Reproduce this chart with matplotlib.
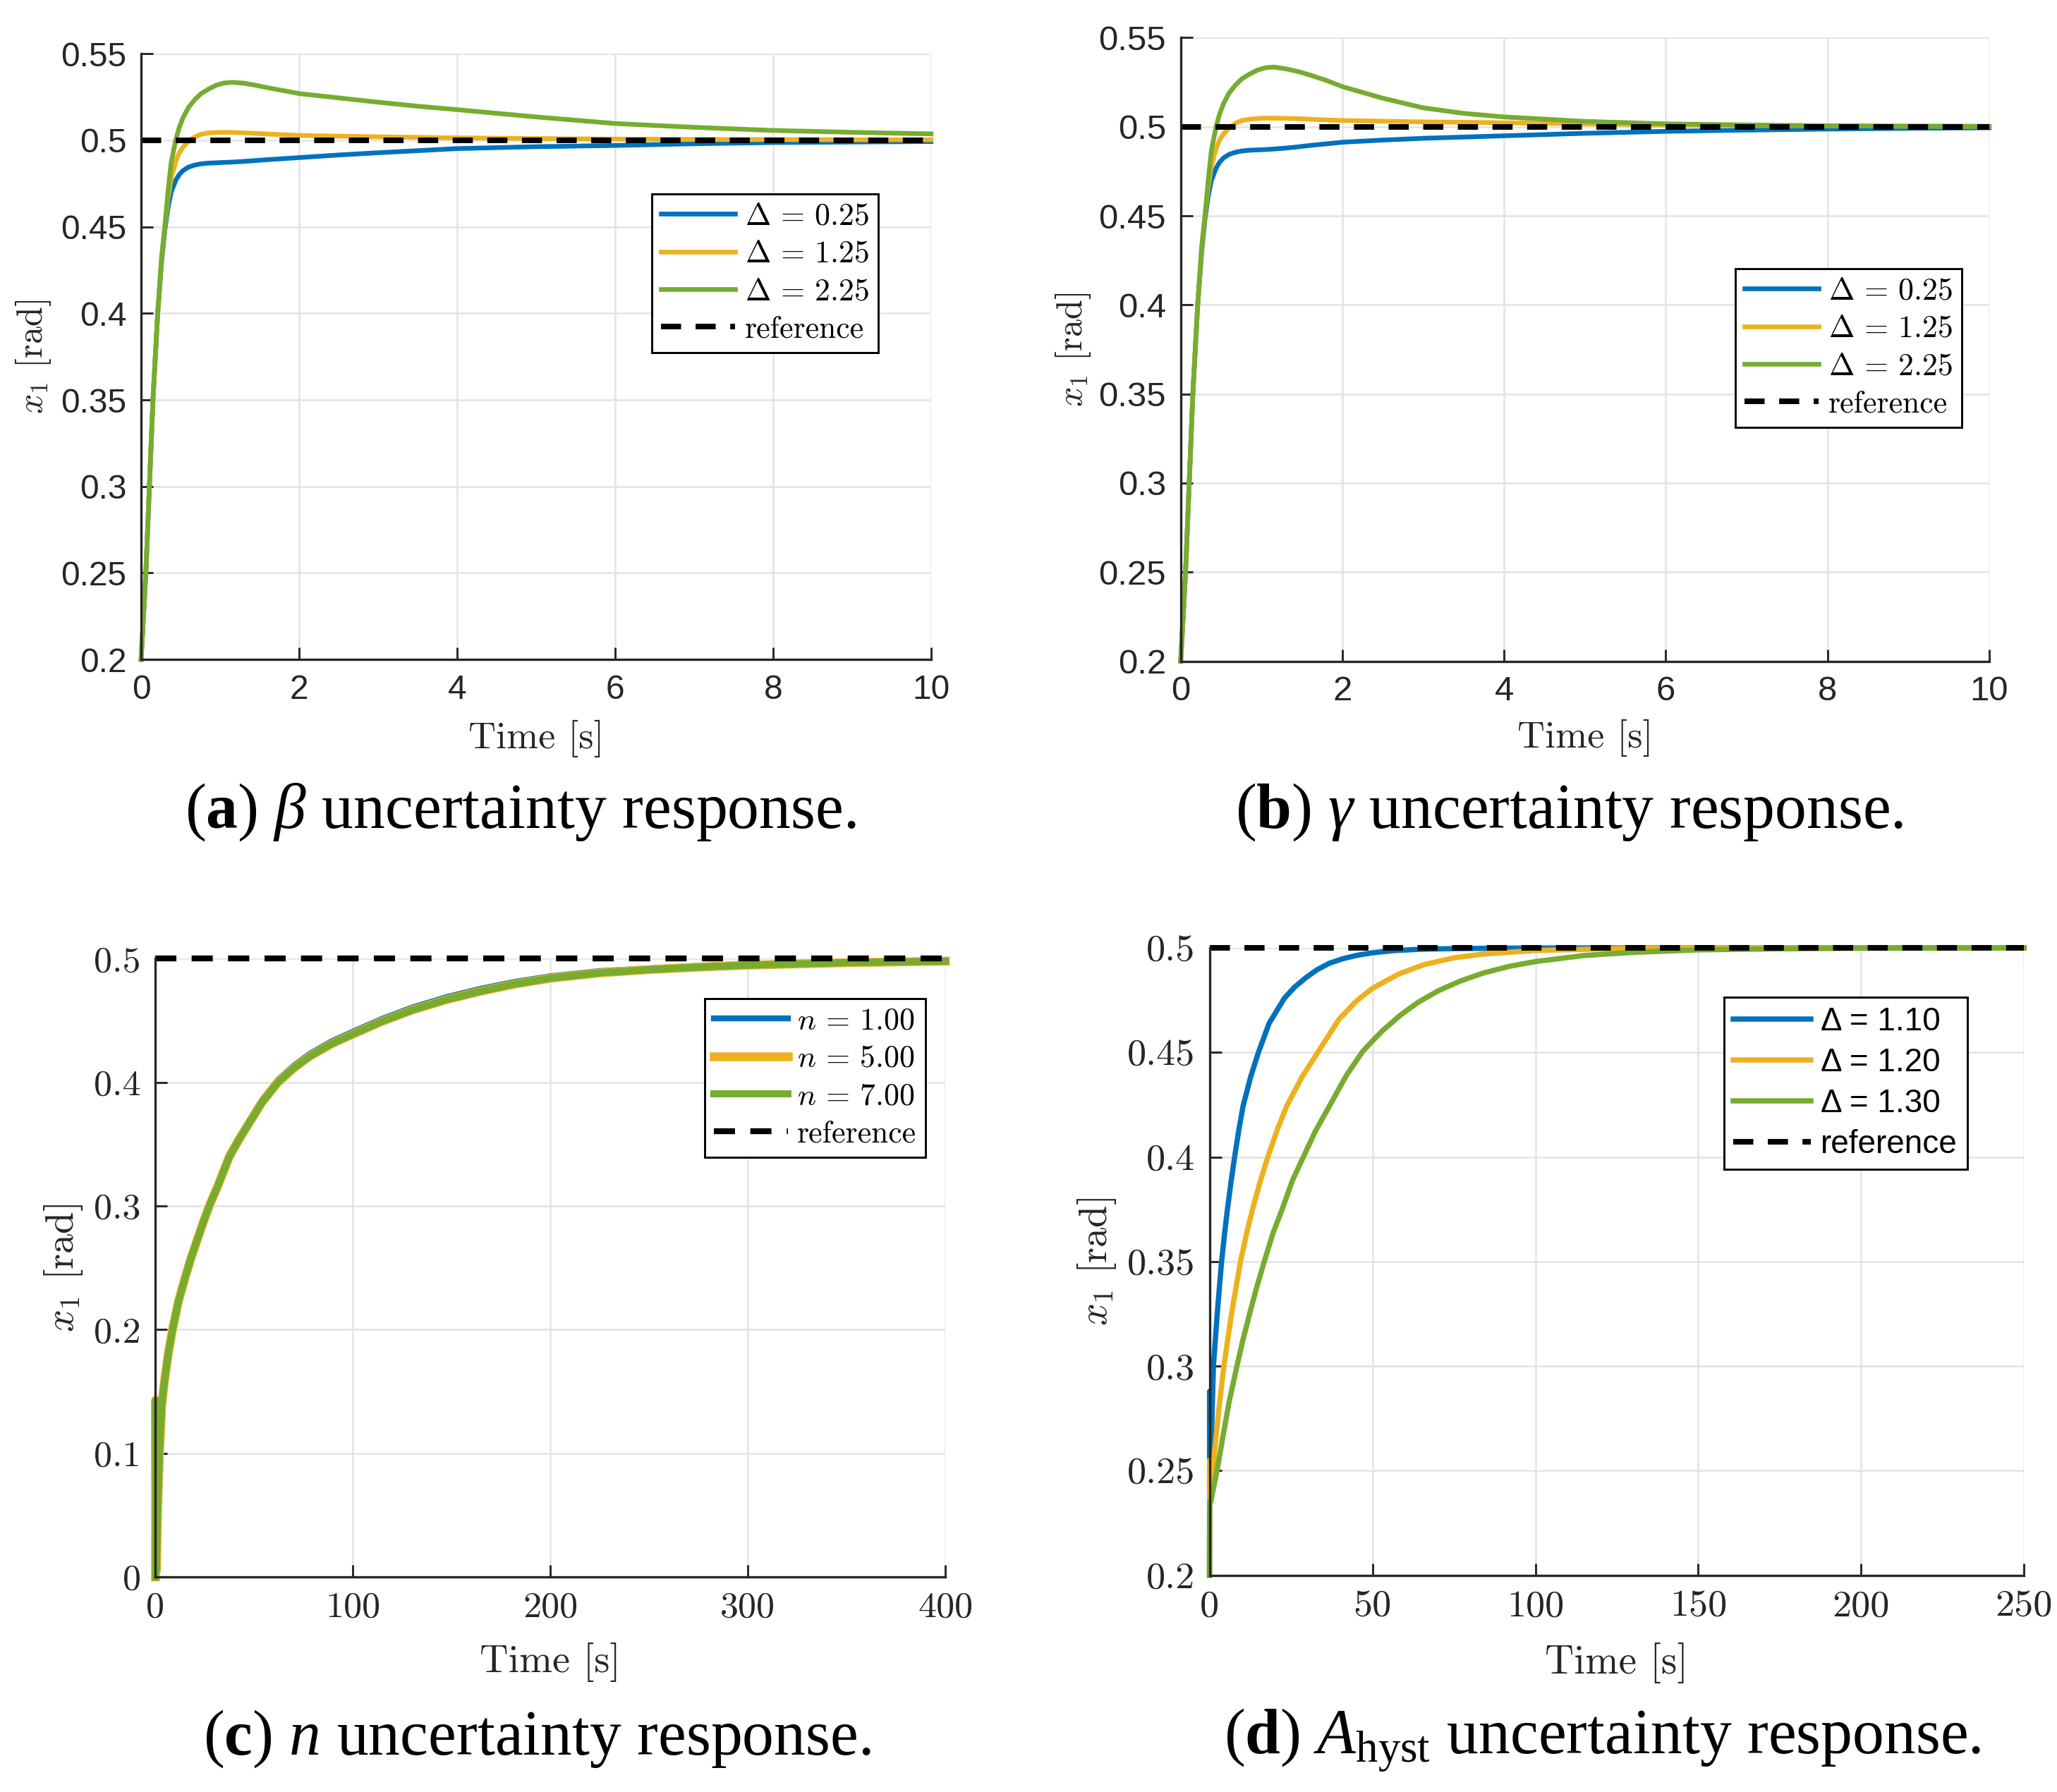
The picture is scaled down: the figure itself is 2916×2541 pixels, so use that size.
"""Closed-loop step responses of x1 under parameter uncertainty (4 panels)."""

import matplotlib
matplotlib.use("Agg")
import matplotlib.pyplot as plt
from matplotlib.font_manager import FontProperties

plt.rcParams["mathtext.fontset"] = "cm"
plt.rcParams["mathtext.rm"] = "Liberation Serif"
plt.rcParams["mathtext.it"] = "Liberation Serif:italic"
plt.rcParams["mathtext.bf"] = "Liberation Serif:bold"

BLUE = "#0072BD"
YELLOW = "#EDB120"
GREEN = "#77AC30"
GRID = "#e3e3e3"
INK = "#262626"

REFERENCE = 0.5

# ---- (a) beta uncertainty -------------------------------------------------
t_beta = [0, 0.03, 0.06, 0.105, 0.15, 0.21, 0.26, 0.3, 0.34, 0.38, 0.44, 0.48,
          0.53, 0.6, 0.68, 0.76, 0.85, 0.95, 1.05, 1.15, 1.3, 1.45, 1.6, 1.8,
          2.0, 2.5, 3, 3.5, 4, 5, 6, 7, 8, 9, 10]
beta_d025 = [0.2, 0.225, 0.25, 0.3, 0.35, 0.4, 0.43, 0.448, 0.461, 0.47,
             0.477, 0.48, 0.4825, 0.4845, 0.4857, 0.4864, 0.4868, 0.487,
             0.4872, 0.4874, 0.4878, 0.4883, 0.4888, 0.4894, 0.490, 0.4915,
             0.4928, 0.494, 0.4952, 0.4963, 0.497, 0.498, 0.4987, 0.499,
             0.4993]
beta_d125 = [0.2, 0.225, 0.25, 0.3, 0.35, 0.4, 0.432, 0.45, 0.466, 0.478,
             0.488, 0.4925, 0.496, 0.4995, 0.502, 0.5035, 0.5042, 0.5045,
             0.5046, 0.5045, 0.5043, 0.504, 0.5036, 0.5032, 0.5028, 0.5024,
             0.502, 0.5017, 0.5014, 0.501, 0.5007, 0.5005, 0.5004, 0.5003,
             0.5003]
beta_d225 = [0.2, 0.225, 0.25, 0.3, 0.35, 0.4, 0.433, 0.45, 0.47, 0.487,
             0.5005, 0.507, 0.513, 0.519, 0.5235, 0.527, 0.5295, 0.5318,
             0.5331, 0.5335, 0.533, 0.5318, 0.5304, 0.5287, 0.527, 0.5245,
             0.522, 0.5197, 0.5177, 0.5135, 0.5097, 0.5075, 0.5057, 0.5046,
             0.5037]

# ---- (b) gamma uncertainty ------------------------------------------------
t_gamma = t_beta
gamma_d025 = [0.2, 0.225, 0.25, 0.3, 0.35, 0.4, 0.43, 0.448, 0.461, 0.47,
              0.477, 0.48, 0.4825, 0.4845, 0.4857, 0.4864, 0.4868, 0.487,
              0.4872, 0.4875, 0.488, 0.4887, 0.4895, 0.4904, 0.4913, 0.4925,
              0.4935, 0.4942, 0.4949, 0.4963, 0.4974, 0.4981, 0.4987, 0.4991,
              0.4994]
gamma_d125 = [0.2, 0.225, 0.25, 0.3, 0.35, 0.4, 0.432, 0.45, 0.466, 0.478,
              0.488, 0.4925, 0.496, 0.4995, 0.502, 0.5035, 0.5042, 0.5046,
              0.5048, 0.5048, 0.5047, 0.5045, 0.5042, 0.5038, 0.5035, 0.5031,
              0.5027, 0.5025, 0.5022, 0.5016, 0.501, 0.5007, 0.5005, 0.5003,
              0.5002]
gamma_d225 = [0.2, 0.225, 0.25, 0.3, 0.35, 0.4, 0.433, 0.45, 0.47, 0.487,
              0.5005, 0.507, 0.513, 0.519, 0.5235, 0.527, 0.5295, 0.5318,
              0.5331, 0.5335, 0.5325, 0.531, 0.529, 0.526, 0.5225, 0.516,
              0.5106, 0.5075, 0.5055, 0.503, 0.5016, 0.501, 0.5005, 0.5003,
              0.5002]
delta_labels_ab = [r"$\Delta\,=\,0.25$", r"$\Delta\,=\,1.25$",
                   r"$\Delta\,=\,2.25$"]

# ---- (c) n uncertainty ----------------------------------------------------
t_n = [0, 0.05, 0.5, 1.0, 2.0, 3.2, 4.5, 6.5, 8.6, 11.5, 14.6, 17.8, 21.2, 24,
       27.2, 32, 37.4, 42, 47, 54, 62, 70, 78, 89, 100, 115, 130, 147.5, 165,
       182, 200, 225, 250, 275, 300, 350, 400]
n_100 = [0, 0.143, 0.005, 0.05, 0.1, 0.14, 0.158, 0.181, 0.2, 0.222, 0.24,
         0.257, 0.274, 0.287, 0.301, 0.3195, 0.342, 0.355, 0.368, 0.386, 0.402,
         0.4135, 0.423, 0.433, 0.441, 0.4515, 0.4605, 0.469, 0.4758, 0.4813,
         0.4858, 0.49, 0.4922, 0.4942, 0.4958, 0.4973, 0.4982]
n_500 = [0, 0.143, 0.005, 0.05, 0.1, 0.14, 0.158, 0.181, 0.2, 0.222, 0.24,
         0.257, 0.273, 0.286, 0.3, 0.318, 0.34, 0.353, 0.366, 0.384, 0.4,
         0.4115, 0.421, 0.431, 0.439, 0.4495, 0.4585, 0.467, 0.4738, 0.4795,
         0.4842, 0.4885, 0.4912, 0.4932, 0.4948, 0.4968, 0.498]
n_700 = list(n_500)
n_labels = [r"$n\,=\,1.00$", r"$n\,=\,5.00$", r"$n\,=\,7.00$"]

# ---- (d) A_hyst uncertainty -----------------------------------------------
t_a110 = [0, 0.05, 0.4, 1.2, 2.4, 3.7, 4.6, 5.5, 6.6, 7.7, 9, 10.3, 12.6, 15,
          18.3, 23, 26, 29.5, 33, 36.8, 41, 45.6, 50, 57, 65, 75, 90, 110, 150,
          250]
a110 = [0.2, 0.288, 0.256, 0.3, 0.3258, 0.35, 0.363, 0.375, 0.3881, 0.4,
        0.413, 0.4244, 0.4382, 0.45, 0.464, 0.476, 0.4811, 0.4857, 0.4896,
        0.4927, 0.4949, 0.4966, 0.4977, 0.4988, 0.4994, 0.4997, 0.4999, 0.5,
        0.5, 0.5]
t_a120 = [0, 0.05, 0.4, 1.5, 2.8, 4.4, 6.8, 9.5, 11.3, 13.2, 15.5, 17.9, 20.8,
          23.7, 28.3, 33.2, 39.7, 45, 50, 58, 66, 75, 84, 100, 125, 150, 250]
a120 = [0.2, 0.255, 0.24, 0.2584, 0.2785, 0.3, 0.3254, 0.35, 0.3629, 0.375,
        0.388, 0.4, 0.4131, 0.4244, 0.4381, 0.45, 0.4658, 0.4745, 0.4807,
        0.4875, 0.4921, 0.4953, 0.4971, 0.4988, 0.4997, 0.4999, 0.5]
t_a130 = [0, 0.05, 0.4, 1.0, 2.3, 4, 6, 8.4, 10.3, 12.4, 14.5, 16.8, 19.5,
          22.3, 25.5, 28.8, 32.5, 36.8, 42, 47, 50, 53, 58.7, 64, 70.3, 77, 84,
          92, 100, 115, 130, 150, 175, 200, 250]
a130 = [0.2, 0.235, 0.235, 0.24, 0.25, 0.2653, 0.2827, 0.3, 0.3128, 0.3256,
        0.3378, 0.35, 0.3637, 0.375, 0.389, 0.4, 0.4124, 0.4244, 0.439,
        0.4505, 0.4555, 0.4603, 0.468, 0.474, 0.4796, 0.4842, 0.488, 0.4912,
        0.4935, 0.4964, 0.4979, 0.4991, 0.4996, 0.4999, 0.5]
delta_labels_d = ["Δ = 1.10", "Δ = 1.20", "Δ = 1.30"]

# ---- ticks ----------------------------------------------------------------
xticks_short = [0, 2, 4, 6, 8, 10]
xticklabels_short = ["0", "2", "4", "6", "8", "10"]
yticks_ab = [0.2, 0.25, 0.3, 0.35, 0.4, 0.45, 0.5, 0.55]
yticklabels_ab = ["0.2", "0.25", "0.3", "0.35", "0.4", "0.45", "0.5", "0.55"]
xticks_c = [0, 100, 200, 300, 400]
xticklabels_c = ["0", "100", "200", "300", "400"]
yticks_c = [0, 0.1, 0.2, 0.3, 0.4, 0.5]
yticklabels_c = ["0", "0.1", "0.2", "0.3", "0.4", "0.5"]
xticks_d = [0, 50, 100, 150, 200, 250]
xticklabels_d = ["0", "50", "100", "150", "200", "250"]
yticks_d = [0.2, 0.25, 0.3, 0.35, 0.4, 0.45, 0.5]
yticklabels_d = ["0.2", "0.25", "0.3", "0.35", "0.4", "0.45", "0.5"]

captions = [
    r"($\mathbf{a}$) $\beta$ uncertainty response.",
    r"($\mathbf{b}$) $\gamma$ uncertainty response.",
    r"($\mathbf{c}$) $n$ uncertainty response.",
    r"($\mathbf{d}$) $A_{\mathrm{hyst}}$ uncertainty response.",
]


def style_axes(ax, xticks, xlabels, yticks, ylabels, tick_family, tick_size,
               label_size=(13, 12)):
    ax.set_xlim(xticks[0], xticks[-1])
    ax.set_ylim(yticks[0], yticks[-1])
    ax.set_xticks(xticks, xlabels)
    ax.set_yticks(yticks, ylabels)
    for side in ("top", "right"):
        ax.spines[side].set_visible(False)
    for side in ("left", "bottom"):
        ax.spines[side].set_color(INK)
        ax.spines[side].set_linewidth(0.8)
    ax.grid(True, color=GRID, linewidth=0.6)
    ax.set_axisbelow(True)
    ax.tick_params(direction="in", length=4, width=0.7, colors=INK,
                   labelsize=tick_size, pad=5)
    for lbl in ax.get_xticklabels() + ax.get_yticklabels():
        lbl.set_fontfamily(tick_family)
    ax.set_xlabel("Time [s]", fontfamily="cmr10", fontsize=label_size[0],
                  color=INK)
    ax.set_ylabel(r"$x_1$ [rad]", fontfamily="cmr10", fontsize=label_size[1],
                  color=INK)


def add_reference(ax, t_end, lw=1.9):
    ax.plot([0, t_end], [REFERENCE, REFERENCE], color="black", lw=lw,
            dashes=(3.6, 2.6), clip_on=False, label="reference")


def add_legend(ax, anchor, prop):
    leg = ax.legend(loc="upper right", bbox_to_anchor=anchor, prop=prop,
                    frameon=True, fancybox=False, edgecolor="black",
                    framealpha=1, borderpad=0.3, labelspacing=0.3,
                    handlelength=2.4, handletextpad=0.3, borderaxespad=0)
    leg.get_frame().set_linewidth(0.7)
    return leg


fig = plt.figure(figsize=(9.72, 8.47), dpi=300)
ax_a = fig.add_axes([0.0686, 0.632, 0.384, 0.338])
ax_b = fig.add_axes([0.574, 0.631, 0.393, 0.348])
ax_c = fig.add_axes([0.0756, 0.120, 0.384, 0.345])
ax_d = fig.add_axes([0.588, 0.121, 0.396, 0.350])

cm_legend = FontProperties(family="cmr10", size=10.5)

# (a)
for y, c, lab in zip([beta_d025, beta_d125, beta_d225],
                     [BLUE, YELLOW, GREEN], delta_labels_ab):
    ax_a.plot(t_beta, y, color=c, lw=1.6, label=lab, clip_on=False)
add_reference(ax_a, 10)
style_axes(ax_a, xticks_short, xticklabels_short, yticks_ab, yticklabels_ab,
           "Liberation Sans", 11.5)
add_legend(ax_a, (0.933, 0.769), cm_legend)
ax_a.yaxis.set_label_coords(-0.112, 0.5)
ax_a.xaxis.set_label_coords(0.5, -0.100)

# (b)
for y, c, lab in zip([gamma_d025, gamma_d125, gamma_d225],
                     [BLUE, YELLOW, GREEN], delta_labels_ab):
    ax_b.plot(t_gamma, y, color=c, lw=1.6, label=lab, clip_on=False)
add_reference(ax_b, 10)
style_axes(ax_b, xticks_short, xticklabels_short, yticks_ab, yticklabels_ab,
           "Liberation Sans", 11.8)
add_legend(ax_b, (0.966, 0.630), cm_legend)
ax_b.yaxis.set_label_coords(-0.109, 0.5)
ax_b.xaxis.set_label_coords(0.5, -0.093)

# (c)
for y, c, lw, lab in zip([n_100, n_500, n_700], [BLUE, YELLOW, GREEN],
                         [2.0, 3.0, 2.4], n_labels):
    ax_c.plot(t_n, y, color=c, lw=lw, label=lab, clip_on=False)
add_reference(ax_c, 400, lw=2.0)
style_axes(ax_c, xticks_c, xticklabels_c, yticks_c, yticklabels_c,
           "cmr10", 12.5, label_size=(13.5, 13.5))
add_legend(ax_c, (0.975, 0.936), cm_legend)
ax_c.yaxis.set_label_coords(-0.090, 0.5)
ax_c.xaxis.set_label_coords(0.5, -0.106)

# (d)
for t, y, c, lab in zip([t_a110, t_a120, t_a130], [a110, a120, a130],
                        [BLUE, YELLOW, GREEN], delta_labels_d):
    ax_d.plot(t, y, color=c, lw=1.8, label=lab, clip_on=False)
add_reference(ax_d, 250)
style_axes(ax_d, xticks_d, xticklabels_d, yticks_d, yticklabels_d,
           "cmr10", 13, label_size=(13.7, 13.5))
add_legend(ax_d, (0.930, 0.922),
           FontProperties(family="Liberation Sans", size=11))
ax_d.yaxis.set_label_coords(-0.112, 0.5)
ax_d.xaxis.set_label_coords(0.5, -0.107)

# captions
caption_pos = [(0.253, 0.538), (0.763, 0.538), (0.261, 0.021), (0.779, 0.021)]
for (x, y), text in zip(caption_pos, captions):
    fig.text(x, y, text, ha="center", va="baseline", fontsize=21.5,
             fontfamily="Liberation Serif", math_fontfamily="custom")

fig.savefig("out.png", dpi=300)
